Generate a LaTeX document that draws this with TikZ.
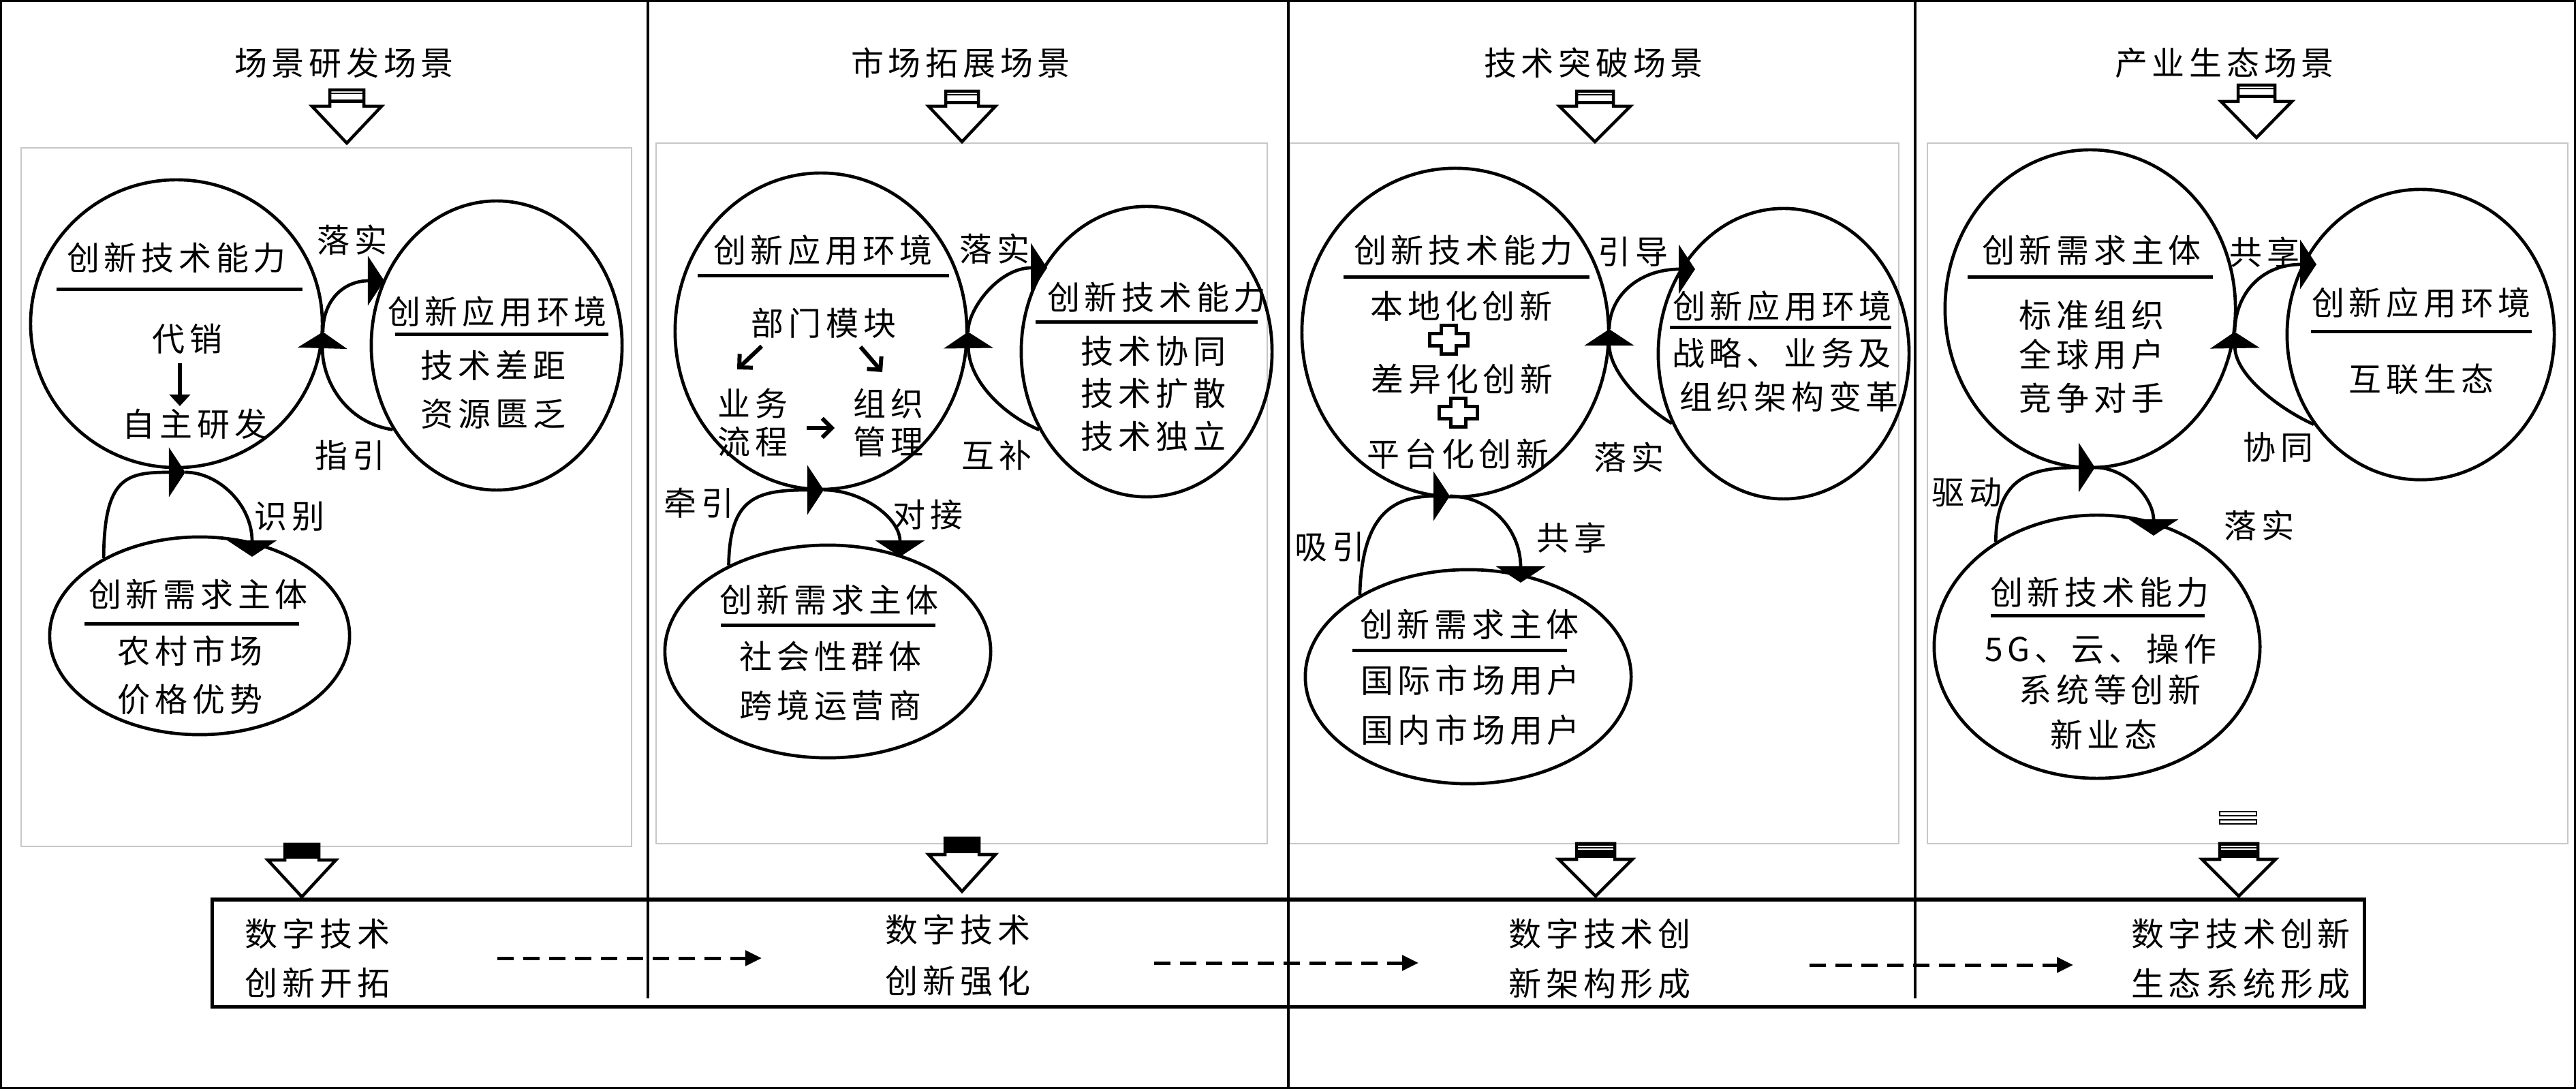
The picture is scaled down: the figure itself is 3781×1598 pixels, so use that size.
\documentclass[tikz,border=0pt]{standalone}
\usepackage{fontspec}
\setmainfont{Noto Sans CJK SC}[LetterSpace=14]
\usetikzlibrary{arrows.meta,shapes.geometric}
\tikzset{
  txt/.style={inner sep=0pt, font=\fontsize{13.65pt}{16pt}\selectfont},
  ell/.style={ellipse, draw=black, line width=0.047cm, inner sep=0pt},
  uline/.style={line width=0.05cm},
  loopline/.style={line width=0.047cm, -{Triangle[length=0.24cm,width=0.72cm]}},
  dasharr/.style={line width=0.05cm, dash pattern=on 0.24cm off 0.14cm, -{Triangle[length=0.24cm,width=0.22cm]}},
  chev/.style={line width=0.06cm, -{Straight Barb[length=0.14cm,width=0.28cm]}},
  downarr/.style={line width=0.055cm, -{Triangle[length=0.17cm,width=0.3cm]}},
  blk/.style={line width=0.045cm, draw=black, fill=white, line join=miter},
  panelbox/.style={draw=black!22, line width=0.015cm},
  sepline/.style={line width=0.045cm},
  plusst/.style={line width=0.05cm, draw=black, fill=white, line join=miter},
}
% block arrow: cx, top, shoulder, tip, stem half width, head half width
\newcommand\bkarrow[6]{%
  \draw[blk] ({#1-#5},#2) -- ({#1+#5},#2) -- ({#1+#5},#3) -- ({#1+#6},#3) -- (#1,#4) -- ({#1-#6},#3) -- ({#1-#5},#3) -- cycle;}
\newcommand\topstripes[3]{% cx, top, stem half width
  \draw[line width=0.015cm] ({#1-#3},{#2+5}) -- ({#1+#3},{#2+5});
  \draw[line width=0.05cm] ({#1-#3},{#2+17}) -- ({#1+#3},{#2+17});}
\newcommand\blackstem[4]{% cx, top, shoulder, stem half width
  \fill[black] ({#1-#4-2},{#2-2}) rectangle ({#1+#4+2},{#3-2});}
\newcommand\whitestripes[3]{% cx, top, stem half width
  \draw[white, line width=0.015cm] ({#1-#3+2},{#2+4}) -- ({#1+#3-2},{#2+4});
  \draw[white, line width=0.02cm] ({#1-#3+2},{#2+8}) -- ({#1+#3-2},{#2+8});}
\newcommand\pluscross[2]{%
  \draw[plusst] ({#1-11},{#2-21}) -- ({#1+11},{#2-21}) -- ({#1+11},{#2-9}) -- ({#1+28},{#2-9}) -- ({#1+28},{#2+9}) -- ({#1+11},{#2+9}) -- ({#1+11},{#2+21}) -- ({#1-11},{#2+21}) -- ({#1-11},{#2+9}) -- ({#1-28},{#2+9}) -- ({#1-28},{#2-9}) -- ({#1-11},{#2-9}) -- cycle;}
\begin{document}
\begin{tikzpicture}[x=0.01cm,y=-0.01cm]
\useasboundingbox (0,0) rectangle (3781,1598);
\fill[white] (0,0) rectangle (3781,1598);
\draw[line width=0.03cm] (1.5,1.5) rectangle (3779.5,1596.5);

% panels
\draw[panelbox] (31,217) rectangle (927,1242);
\draw[panelbox] (963,210) rectangle (1860,1238);
\draw[panelbox] (1893,210) rectangle (2787,1238);
\draw[panelbox] (2829,210) rectangle (3769,1238);

% separators
\draw[sepline] (951,0) -- (951,1465);
\draw[sepline] (1891,0) -- (1891,1598);
\draw[sepline] (2811,0) -- (2811,1465);

% bottom box
\draw[line width=0.05cm] (311,1320) rectangle (3470,1477);

% titles
\node[txt] (t1) at (505,92) {场景研发场景};
\node[txt] (t2) at (1410,92) {市场拓展场景};
\node[txt] (t3) at (2339,92) {技术突破场景};
\node[txt] (t4) at (3265,92) {产业生态场景};

% top block arrows
\bkarrow{509}{132}{156}{210}{25}{51}\topstripes{509}{132}{25}
\bkarrow{1412}{134}{156}{208}{24}{49}\topstripes{1412}{134}{24}
\bkarrow{2341}{134}{156}{208}{27}{52}\topstripes{2341}{134}{27}
\bkarrow{3312}{125}{149}{202}{27}{52}\topstripes{3312}{125}{27}

% bottom block arrows
\bkarrow{443}{1239}{1262}{1316}{25}{50}\blackstem{443}{1239}{1262}{25}
\bkarrow{1412}{1230}{1254}{1308}{25}{49}\blackstem{1412}{1230}{1254}{25}
\bkarrow{2342}{1238}{1261}{1315}{28}{54}\blackstem{2342}{1238}{1261}{28}\whitestripes{2342}{1238}{28}
\bkarrow{3286}{1238}{1261}{1315}{28}{54}\blackstem{3286}{1238}{1261}{28}\whitestripes{3286}{1238}{28}
\draw[line width=0.015cm] (3258,1191) rectangle (3312,1197);
\draw[line width=0.015cm] (3258,1203) rectangle (3312,1209);

% ===== panel 1 =====
\node[ell, minimum width=4.28cm, minimum height=4.22cm] (E11) at (259,475) {};
\node[ell, minimum width=3.68cm, minimum height=4.24cm] (E12) at (729,507) {};
\node[ell, minimum width=4.40cm, minimum height=2.90cm] (E13) at (293,933) {};
\node[txt] (e11t) at (259,378) {创新技术能力};
\draw[uline] (83,425) -- (444,425);
\node[txt] (e11a) at (275,497) {代销};
\coordinate (a11s) at (264,533);
\coordinate (a11e) at (264,596);
\draw[downarr] (a11s) -- (a11e);
\node[txt] (e11b) at (286,622) {自主研发};
\node[txt] (e12t) at (730,457) {创新应用环境};
\draw[uline] (580,491) -- (893,491);
\node[txt] (e12a) at (724,536) {技术差距};
\node[txt] (e12b) at (724,607) {资源匮乏};
\node[txt] (e13t) at (291,872) {创新需求主体};
\draw[uline] (124,916) -- (439,916);
\node[txt] (e13a) at (279,955) {农村市场};
\node[txt] (e13b) at (279,1026) {价格优势};
\coordinate (m11) at (474,487);
\coordinate (t11) at (564,412);
\draw[loopline] (E12.219) .. controls (505,620) and (472,555) .. (m11);
\draw[loopline] (m11) .. controls (474,440) and (505,412) .. (t11);
\coordinate (m12) at (272,693);
\coordinate (t12) at (370,817);
\draw[loopline] (E13.141) .. controls (153,700) and (185,693) .. (m12);
\draw[loopline] (m12) .. controls (320,693) and (370,740) .. (t12);
\node[txt] (l11) at (517,352) {落实};
\node[txt] (l12) at (514,668) {指引};
\node[txt] (l13) at (425,758) {识别};
\node[txt] (bb1a) at (466,1370) {数字技术};
\node[txt] (bb1b) at (466,1442) {创新开拓};

% ===== panel 2 =====
\node[ell, minimum width=4.28cm, minimum height=4.64cm] (E21) at (1205,486) {};
\node[ell, minimum width=3.68cm, minimum height=4.26cm] (E22) at (1683,516) {};
\node[ell, minimum width=4.78cm, minimum height=3.12cm] (E23) at (1215,956) {};
\node[txt] (e21t) at (1208,367) {创新应用环境};
\draw[uline] (1024,405) -- (1393,405);
\node[txt] (e21a) at (1209,474) {部门模块};
\coordinate (a21s) at (1118,508);
\coordinate (a21e) at (1082,542);
\coordinate (a22s) at (1263,509);
\coordinate (a22e) at (1295,546);
\coordinate (a23s) at (1184,628);
\coordinate (a23e) at (1225,628);
\draw[chev] (a21s) -- (a21e);
\draw[chev] (a22s) -- (a22e);
\draw[chev] (a23s) -- (a23e);
\node[txt] (e21b) at (1105,592) {业务};
\node[txt] (e21c) at (1105,648) {流程};
\node[txt] (e21d) at (1304,592) {组织};
\node[txt] (e21e) at (1304,648) {管理};
\node[txt] (e22t) at (1698,436) {创新技术能力};
\draw[uline] (1520,473) -- (1846,473);
\node[txt] (e22a) at (1693,515) {技术协同};
\node[txt] (e22b) at (1693,577) {技术扩散};
\node[txt] (e22c) at (1693,640) {技术独立};
\node[txt] (e23t) at (1217,880) {创新需求主体};
\draw[uline] (1058,918) -- (1373,918);
\node[txt] (e23a) at (1219,963) {社会性群体};
\node[txt] (e23b) at (1219,1035) {跨境运营商};
\coordinate (m21) at (1421,487);
\coordinate (t21) at (1537,393);
\draw[loopline] (E22.216) .. controls (1475,610) and (1422,560) .. (m21);
\draw[loopline] (m21) .. controls (1420,455) and (1465,393) .. (t21);
\coordinate (m22) at (1209,719);
\coordinate (t22) at (1321,817);
\draw[loopline] (E23.139) .. controls (1071,730) and (1110,719) .. (m22);
\draw[loopline] (m22) .. controls (1265,719) and (1321,760) .. (t22);
\node[txt] (l21) at (1460,365) {落实};
\node[txt] (l22) at (1463,668) {互补};
\node[txt] (l23) at (1026,738) {牵引};
\node[txt] (l24) at (1362,755) {对接};
\node[txt] (bb2a) at (1406,1364) {数字技术};
\node[txt] (bb2b) at (1406,1439) {创新强化};

% ===== panel 3 =====
\node[ell, minimum width=4.50cm, minimum height=4.82cm] (E31) at (2136,488) {};
\node[ell, minimum width=3.68cm, minimum height=4.26cm] (E32) at (2618,519) {};
\node[ell, minimum width=4.78cm, minimum height=3.14cm] (E33) at (2155,993) {};
\node[txt] (e31t) at (2148,367) {创新技术能力};
\draw[uline] (1972,407) -- (2333,407);
\node[txt] (e31a) at (2145,449) {本地化创新};
\pluscross{2126}{499}
\node[txt] (e31b) at (2146,556) {差异化创新};
\pluscross{2140}{606}
\node[txt] (e31c) at (2140,666) {平台化创新};
\node[txt] (e32t) at (2616,449) {创新应用环境};
\draw[uline] (2451,481) -- (2776,481);
\node[txt] (e32a) at (2615,518) {战略、业务及};
\node[txt] (e32b) at (2626,582) {组织架构变革};
\node[txt] (e33t) at (2157,916) {创新需求主体};
\draw[uline] (1985,955) -- (2300,955);
\node[txt] (e33a) at (2158,998) {国际市场用户};
\node[txt] (e33b) at (2158,1071) {国内市场用户};
\coordinate (m31) at (2362,483);
\coordinate (t31) at (2488,395);
\draw[loopline] (E32.212) .. controls (2410,595) and (2362,545) .. (m31);
\draw[loopline] (m31) .. controls (2362,435) and (2405,395) .. (t31);
\coordinate (m32) at (2128,728);
\coordinate (t32) at (2232,855);
\draw[loopline] (E33.143) .. controls (1999,760) and (2040,728) .. (m32);
\draw[loopline] (m32) .. controls (2185,728) and (2232,775) .. (t32);
\node[txt] (l31) at (2397,370) {引导};
\node[txt] (l32) at (2391,671) {落实};
\node[txt] (l33) at (1952,803) {吸引};
\node[txt] (l34) at (2307,789) {共享};
\node[txt] (bb3a) at (2348,1370) {数字技术创};
\node[txt] (bb3b) at (2348,1443) {新架构形成};

% ===== panel 4 =====
\node[ell, minimum width=4.26cm, minimum height=4.66cm] (E41) at (3068,453) {};
\node[ell, minimum width=3.92cm, minimum height=4.26cm] (E42) at (3553,491) {};
\node[ell, minimum width=4.78cm, minimum height=3.86cm] (E43) at (3078,949) {};
\node[txt] (e41t) at (3070,367) {创新需求主体};
\draw[uline] (2888,407) -- (3248,407);
\node[txt] (e41a) at (3070,462) {标准组织};
\node[txt] (e41b) at (3070,520) {全球用户};
\node[txt] (e41c) at (3070,584) {竞争对手};
\node[txt] (e42t) at (3554,444) {创新应用环境};
\draw[uline] (3392,487) -- (3716,487);
\node[txt] (e42a) at (3554,556) {互联生态};
\node[txt] (e43t) at (3082,869) {创新技术能力};
\draw[uline] (2922,904) -- (3236,904);
\node[txt] (e43a) at (3083,952) {5G、云、操作};
\node[txt] (e43b) at (3097,1012) {系统等创新};
\node[txt] (e43c) at (3088,1078) {新业态};
\coordinate (m41) at (3280,487);
\coordinate (t41) at (3400,388);
\draw[loopline] (E42.220) .. controls (3345,600) and (3281,550) .. (m41);
\draw[loopline] (m41) .. controls (3281,430) and (3320,388) .. (t41);
\coordinate (m42) at (3075,686);
\coordinate (t42) at (3161,786);
\draw[loopline] (E43.134) .. controls (2930,700) and (2980,686) .. (m42);
\draw[loopline] (m42) .. controls (3120,686) and (3161,730) .. (t42);
\node[txt] (l41) at (3324,370) {共享};
\node[txt] (l42) at (3344,656) {协同};
\node[txt] (l43) at (2887,723) {驱动};
\node[txt] (l44) at (3316,771) {落实};
\node[txt] (bb4a) at (3289,1370) {数字技术创新};
\node[txt] (bb4b) at (3289,1443) {生态系统形成};

% dashed progression arrows
\coordinate (d1s) at (730,1406);
\coordinate (d1e) at (1118,1406);
\coordinate (d2s) at (1694,1413);
\coordinate (d2e) at (2082,1413);
\coordinate (d3s) at (2656,1416);
\coordinate (d3e) at (3043,1416);
\draw[dasharr] (d1s) -- (d1e);
\draw[dasharr] (d2s) -- (d2e);
\draw[dasharr] (d3s) -- (d3e);
\end{tikzpicture}
\end{document}
